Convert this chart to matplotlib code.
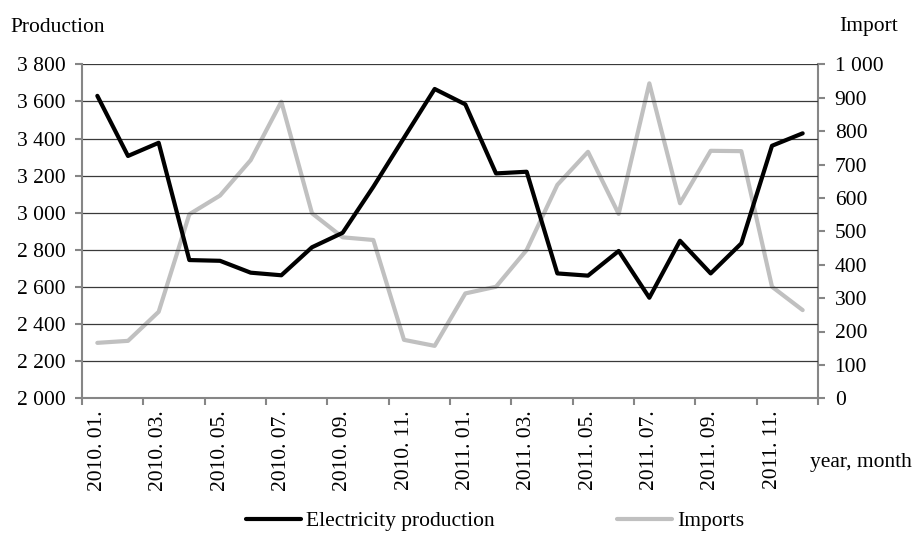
import matplotlib
matplotlib.use("Agg")
import matplotlib.pyplot as plt
from matplotlib.ticker import FuncFormatter, FixedLocator

plt.rcParams['font.family'] = ['Liberation Serif', 'DejaVu Serif']

months = ["2010. 01.", "2010. 02.", "2010. 03.", "2010. 04.", "2010. 05.", "2010. 06.",
          "2010. 07.", "2010. 08.", "2010. 09.", "2010. 10.", "2010. 11.", "2010. 12.",
          "2011. 01.", "2011. 02.", "2011. 03.", "2011. 04.", "2011. 05.", "2011. 06.",
          "2011. 07.", "2011. 08.", "2011. 09.", "2011. 10.", "2011. 11.", "2011. 12."]
production = [3630, 3306, 3377, 2745, 2741, 2677, 2663, 2814, 2892, 3140, 3404, 3667,
              3584, 3212, 3221, 2673, 2661, 2794, 2542, 2849, 2673, 2835, 3361, 3428]
imports = [166, 172, 259, 551, 607, 713, 888, 554, 482, 474, 175, 157,
           314, 334, 444, 639, 738, 552, 943, 584, 741, 740, 334, 264]

fs = 15.5
spine_col = "#868686"

fig = plt.figure(figsize=(9.13, 5.34), dpi=100)
ax = fig.add_axes([82 / 913, 1 - 398.3 / 534, 736 / 913, 334 / 534])
ax2 = ax.twinx()

x = list(range(len(months)))
l1, = ax.plot(x, production, color="black", lw=3, solid_capstyle="round", zorder=3)
l2, = ax2.plot(x, imports, color="#c0c0c0", lw=3, solid_capstyle="round", zorder=2)
ax.set_zorder(ax2.get_zorder() + 1)
ax.patch.set_visible(False)

ax.set_xlim(-0.5, len(months) - 0.5)
ax.set_ylim(2000, 3800)
ax2.set_ylim(0, 1000)
ax.set_yticks(range(2000, 3801, 200))
ax2.set_yticks(range(0, 1001, 100))

space_fmt = FuncFormatter(lambda v, p: f"{int(v):,}".replace(",", " "))
ax.yaxis.set_major_formatter(space_fmt)
ax2.yaxis.set_major_formatter(space_fmt)

ax.grid(axis="y", color="#3a3a3a", lw=0.9)
ax.set_axisbelow(True)

# tick marks on month-pair boundaries, labels on odd months
ax.xaxis.set_major_locator(FixedLocator([i - 0.5 for i in range(0, 25, 2)]))
ax.xaxis.set_major_formatter(FuncFormatter(lambda v, p: ""))
ax.xaxis.set_minor_locator(FixedLocator(x[::2]))
ax.set_xticklabels(months[::2], minor=True, rotation=90, fontsize=fs)
ax.tick_params(axis="x", which="major", length=5, width=1.5, color=spine_col, direction="out")
ax.tick_params(axis="x", which="minor", length=0, pad=9)

ax.tick_params(axis="y", length=5, width=1.5, color=spine_col, labelsize=fs, pad=7)
ax2.tick_params(axis="y", length=5, width=1.5, color=spine_col, labelsize=fs, pad=7)

for a in (ax, ax2):
    for s in a.spines.values():
        s.set_visible(False)
ax.spines["left"].set_visible(True)
ax.spines["bottom"].set_visible(True)
ax2.spines["right"].set_visible(True)
for s in (ax.spines["left"], ax.spines["bottom"], ax2.spines["right"]):
    s.set_color(spine_col)
    s.set_linewidth(1.5)

fig.text(10 / 913, 1 - 27 / 534, "Production", fontsize=fs, va="center", ha="left")
fig.text(839 / 913, 1 - 27 / 534, "Import", fontsize=fs, va="center", ha="left")
fig.text(810 / 913, 1 - 463 / 534, "year, month", fontsize=fs, va="center", ha="left")

fig.legend([l1, l2], ["Electricity production", "Imports"], loc="center",
           bbox_to_anchor=(495 / 913, 13 / 534), ncol=2, frameon=False, fontsize=fs,
           handlelength=2.56, handletextpad=0.23, columnspacing=5.67, borderpad=0)

fig.savefig("out.png", dpi=100)
